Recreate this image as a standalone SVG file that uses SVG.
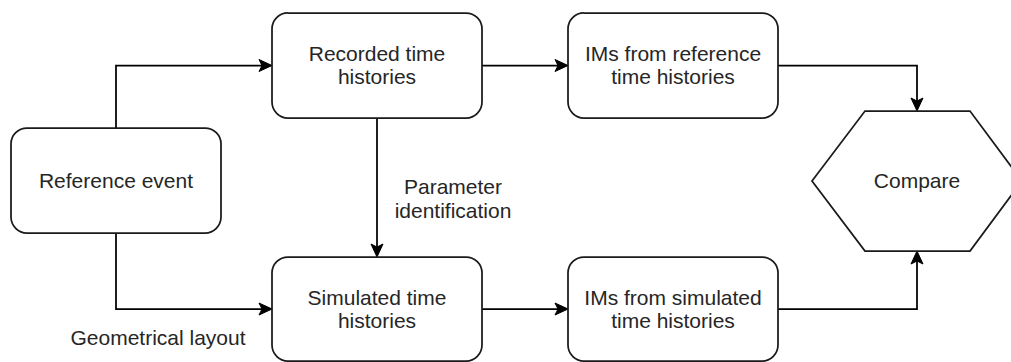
<svg xmlns="http://www.w3.org/2000/svg" width="1011" height="362" viewBox="0 0 1011 362">
  <style>
    .box { fill: #ffffff; stroke: #1a1a1a; stroke-width: 1.75; }
    .conn { fill: none; stroke: #000000; stroke-width: 1.75; marker-end: url(#arrow); }
    .lbl { font-family: "Liberation Sans", Arial, sans-serif; font-size: 21px; fill: #262626; text-anchor: middle; }
  </style>
  <defs>
    <marker id="arrow" markerUnits="userSpaceOnUse" viewBox="-14 -8 18 16" markerWidth="18" markerHeight="16" refX="0" refY="0" orient="auto" overflow="visible">
      <path d="M2,0 L-11,-6 L-8,0 L-11,6 Z" fill="#000000" stroke="#000000" stroke-width="1" stroke-linejoin="miter"/>
    </marker>
  </defs>
  <rect width="1011" height="362" fill="#ffffff"/>

  <g id="connectors">
    <path class="conn" d="M116,128 V65.5 H270"/>
    <path class="conn" d="M116,233 V309 H270"/>
    <path class="conn" d="M377,118 V255"/>
    <path class="conn" d="M482,65.5 H566"/>
    <path class="conn" d="M482,309 H566"/>
    <path class="conn" d="M778,65.5 H917 V109"/>
    <path class="conn" d="M778,309 H917 V253"/>
  </g>

  <g id="node-reference-event">
    <rect class="box" x="11" y="128" width="210" height="105" rx="16" ry="16"/>
    <text class="lbl" x="116" y="188">Reference event</text>
  </g>

  <g id="node-recorded">
    <rect class="box" x="272" y="13" width="210" height="105" rx="16" ry="16"/>
    <text class="lbl" x="377" y="61">Recorded time</text>
    <text class="lbl" x="377" y="84">histories</text>
  </g>

  <g id="node-simulated">
    <rect class="box" x="272" y="257" width="210" height="104" rx="16" ry="16"/>
    <text class="lbl" x="377" y="305">Simulated time</text>
    <text class="lbl" x="377" y="328">histories</text>
  </g>

  <g id="node-ims-reference">
    <rect class="box" x="568" y="13" width="210" height="105" rx="16" ry="16"/>
    <text class="lbl" x="673" y="61">IMs from reference</text>
    <text class="lbl" x="673" y="84">time histories</text>
  </g>

  <g id="node-ims-simulated">
    <rect class="box" x="568" y="257" width="210" height="104" rx="16" ry="16"/>
    <text class="lbl" x="673" y="305">IMs from simulated</text>
    <text class="lbl" x="673" y="328">time histories</text>
  </g>

  <g id="node-compare">
    <polygon class="box" points="812,181 865,111 970,111 1022,181 970,251 865,251"/>
    <text class="lbl" x="917" y="188">Compare</text>
  </g>

  <g id="edge-labels">
    <text class="lbl" x="453" y="194">Parameter</text>
    <text class="lbl" x="453" y="218">identification</text>
    <text class="lbl" x="158" y="345">Geometrical layout</text>
  </g>
</svg>
